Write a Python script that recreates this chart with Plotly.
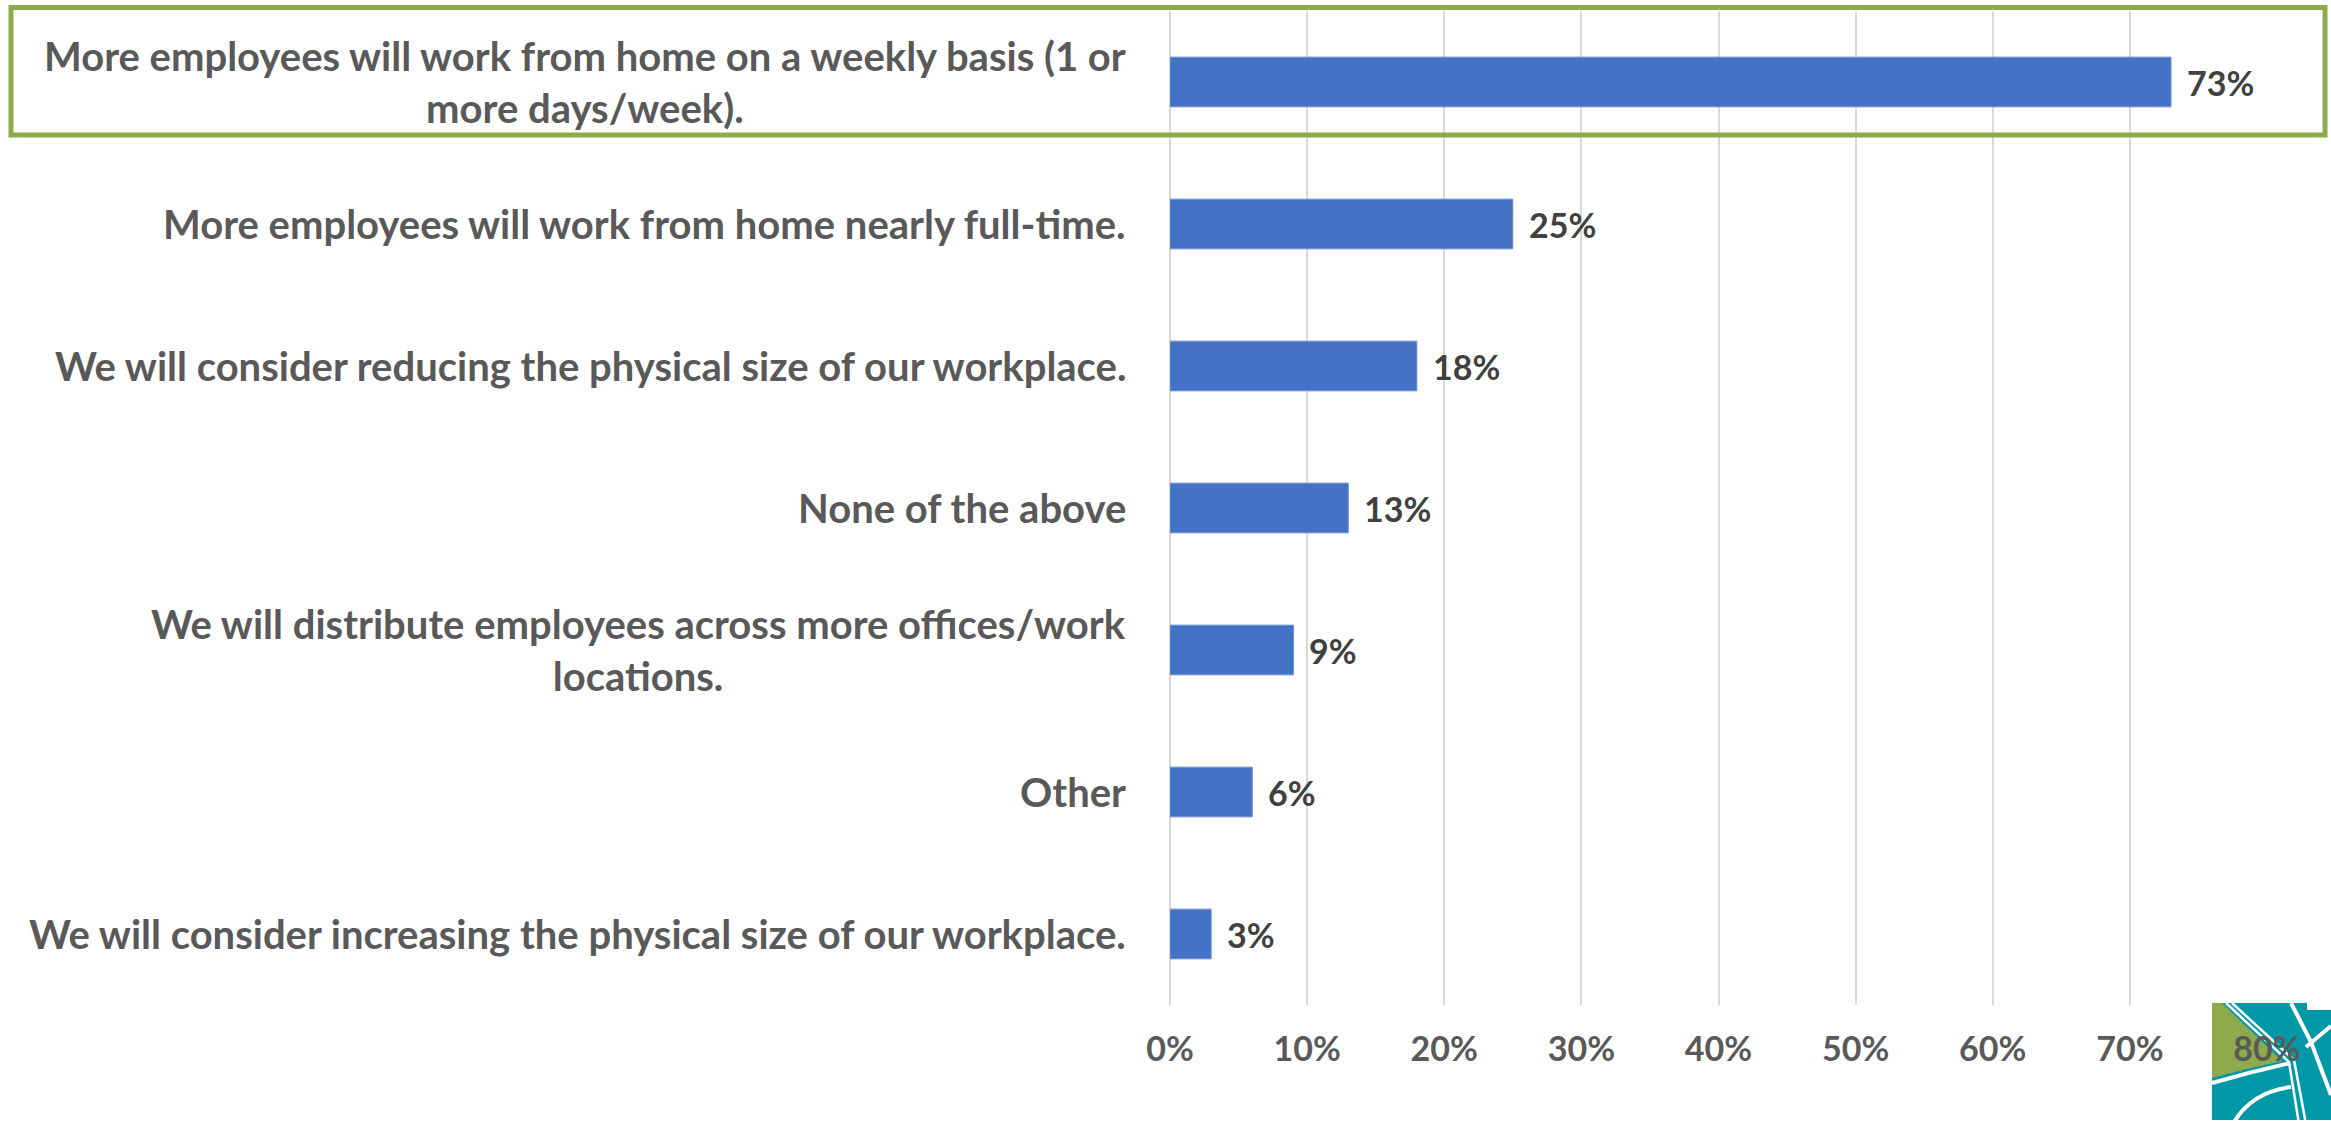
import plotly.graph_objects as go

# Survey responses (share of respondents, percent)
categories = [
    "More employees will work from home on a weekly basis (1 or<br>more days/week).",
    "More employees will work from home nearly full-time.",
    "We will consider reducing the physical size of our workplace.",
    "None of the above",
    "We will distribute employees across more offices/work<br>locations.",
    "Other",
    "We will consider increasing the physical size of our workplace.",
]
values = [73, 25, 18, 13, 9, 6, 3]
tick_values = [0, 10, 20, 30, 40, 50, 60, 70, 80]
tick_labels = [f"{t}%" for t in tick_values]

W, H = 2331, 1124
L, R, T, B = 1170, 2267, 11, 1005  # plot area in pixels
FONT = "Lato"
CAT_SIZE = 40
LABEL_SIZE = 34
BAR_BLUE = "#4472C4"
GREEN = "#8FAA4C"
TEAL = "#0097A7"


def px(x, y):
    """Pixel position -> paper coordinates string for shape paths."""
    return f"{(x - L) / (R - L):.5f},{(B - y) / (B - T):.5f}"


fig = go.Figure(
    go.Bar(
        x=values,
        y=categories,
        orientation="h",
        width=0.35,
        marker=dict(color=BAR_BLUE, line=dict(color="#6A8ED3", width=1)),
        hoverinfo="skip",
    )
)

annotations = []
# category labels, right-aligned against the axis, lines centred
for cat in categories:
    annotations.append(dict(
        x=0, xref="paper", y=cat, yref="y",
        xanchor="right", yanchor="middle", xshift=-42,
        text=cat, showarrow=False, align="center",
        font=dict(family=FONT, size=CAT_SIZE, color="#595959", weight="bold"),
    ))
# value labels beside each bar
for cat, v in zip(categories, values):
    annotations.append(dict(
        x=v, xref="x", y=cat, yref="y",
        xanchor="left", yanchor="middle", xshift=14,
        text=f"{v}%", showarrow=False,
        font=dict(family=FONT, size=LABEL_SIZE, color="#404040", weight="bold"),
    ))

shapes = []
# logo: teal block with green wedge and white road lines
shapes.append(dict(
    type="path", xref="paper", yref="paper", layer="below",
    path=(f"M{px(2212,1003)} L{px(2307,1003)} L{px(2307,1010)} L{px(2331,1010)} "
          f"L{px(2331,1120)} L{px(2212,1120)} Z"),
    fillcolor=TEAL, line=dict(width=0),
))
shapes.append(dict(
    type="path", xref="paper", yref="paper", layer="below",
    path=(f"M{px(2212,1003)} L{px(2222,1003)} L{px(2282,1061)} "
          f"Q{px(2245,1069)} {px(2212,1078)} Z"),
    fillcolor=GREEN, line=dict(width=0),
))
white_paths = [
    (f"M{px(2212,1083)} Q{px(2250,1072)} {px(2290,1063)}", 4),
    (f"M{px(2226,1003)} L{px(2289,1062)} L{px(2299,1124)}", 2.5),
    (f"M{px(2232,1003)} L{px(2294,1060)} L{px(2306,1124)}", 2.5),
    (f"M{px(2291,1003)} L{px(2311,1042)} L{px(2331,1095)}", 4),
    (f"M{px(2306,1047)} L{px(2331,1026)}", 4),
    (f"M{px(2234,1122)} Q{px(2252,1092)} {px(2291,1087)}", 4),
]
for p, w in white_paths:
    shapes.append(dict(
        type="path", xref="paper", yref="paper", layer="below",
        path=p, line=dict(color="white", width=w),
    ))
# highlight frame around the leading response
shapes.append(dict(
    type="rect", xref="paper", yref="paper", layer="above",
    x0=(11 - L) / (R - L), x1=(2325 - L) / (R - L),
    y0=(B - 135) / (B - T), y1=(B - 7.5) / (B - T),
    line=dict(color=GREEN, width=5), fillcolor="rgba(0,0,0,0)",
))

fig.update_layout(
    width=W, height=H,
    margin=dict(l=L, r=W - R, t=T, b=H - B, pad=0),
    paper_bgcolor="white", plot_bgcolor="white",
    showlegend=False,
    bargap=0.65,
    annotations=annotations,
    shapes=shapes,
    xaxis=dict(
        range=[0, 80], tickvals=tick_values, ticktext=tick_labels,
        showgrid=True, gridcolor="#D9D9D9", gridwidth=1.5,
        zeroline=True, zerolinecolor="#D9D9D9", zerolinewidth=1.5,
        showline=False, ticks="outside", ticklen=14,
        tickcolor="rgba(0,0,0,0)",
        tickfont=dict(family=FONT, size=LABEL_SIZE, color="#595959", weight="bold"),
        fixedrange=True,
    ),
    yaxis=dict(
        type="category", categoryorder="array", categoryarray=categories,
        range=[6.5, -0.5], showticklabels=False, showgrid=False,
        zeroline=False, showline=False, fixedrange=True,
    ),
)

fig.write_html("out.html")
